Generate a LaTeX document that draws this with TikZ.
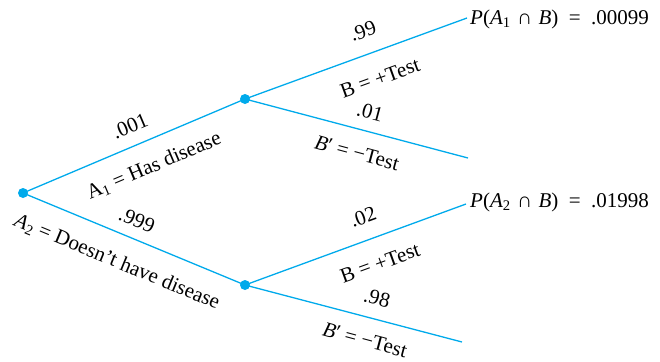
\documentclass[tikz,border=0pt]{standalone}
\usepackage{fontspec}
\setmainfont{Liberation Serif}
\definecolor{br}{RGB}{0,170,235}
\newcommand\sbx[1]{\textsubscript{#1}}
\newcommand\eqs{\hspace{0.5em}=\hspace{0.5em}}
\newcommand\caps{\hspace{0.3em}∩\hspace{0.3em}}
\begin{document}
\begin{tikzpicture}[x=1bp,y=-1bp,
  branch/.style={br, line width=1.3bp},
  dot/.style={circle, fill=br, inner sep=0pt, minimum size=10bp},
  lbl/.style={font=\fontsize{21bp}{24bp}\selectfont, inner sep=0pt}]
\useasboundingbox (0,0) rectangle (660,361);
\node[dot] (r) at (23,193) {};
\node[dot] (u) at (245,99) {};
\node[dot] (l) at (245,285) {};
\coordinate (uu) at (467,18);
\coordinate (ul) at (468,158);
\coordinate (lu) at (466,204);
\coordinate (ll) at (462,342);
\draw[branch] (r.center) -- (u.center);
\draw[branch] (r.center) -- (l.center);
\draw[branch] (u.center) -- (uu);
\draw[branch] (u.center) -- (ul);
\draw[branch] (l.center) -- (lu);
\draw[branch] (l.center) -- (ll);
% first stage labels
\node[lbl, rotate=23] (p1) at (130,126) {.001};
\node[lbl, rotate=23] (a1) at (154,166) {A\sbx{1} = Has disease};
\node[lbl, rotate=-22.5] (p2) at (137,220) {.999};
\node[lbl, rotate=-22.5] (a2) at (117,262) {\textit{A}\sbx{2} = Doesn't have disease};
% upper second stage
\node[lbl, rotate=20] (p11) at (363,31) {.99};
\node[lbl, rotate=20] (b1) at (380,78) {B = +Test};
\node[lbl, rotate=-15] (p12) at (370,112) {.01};
\node[lbl, rotate=-15] (c1) at (357,153) {\textit{B}′ = −Test};
\node[lbl, anchor=west] (r1) at (470,19) {\textit{P}(\textit{A}\sbx{1}\caps\textit{B})\eqs.00099};
% lower second stage
\node[lbl, rotate=20] (p21) at (363,217) {.02};
\node[lbl, rotate=20] (b2) at (380,263) {B = +Test};
\node[lbl, rotate=-15] (p22) at (377,298) {.98};
\node[lbl, rotate=-15] (c2) at (365,340) {\textit{B}′ = −Test};
\node[lbl, anchor=west] (r2) at (470,202) {\textit{P}(\textit{A}\sbx{2}\caps\textit{B})\eqs.01998};
\end{tikzpicture}
\end{document}
